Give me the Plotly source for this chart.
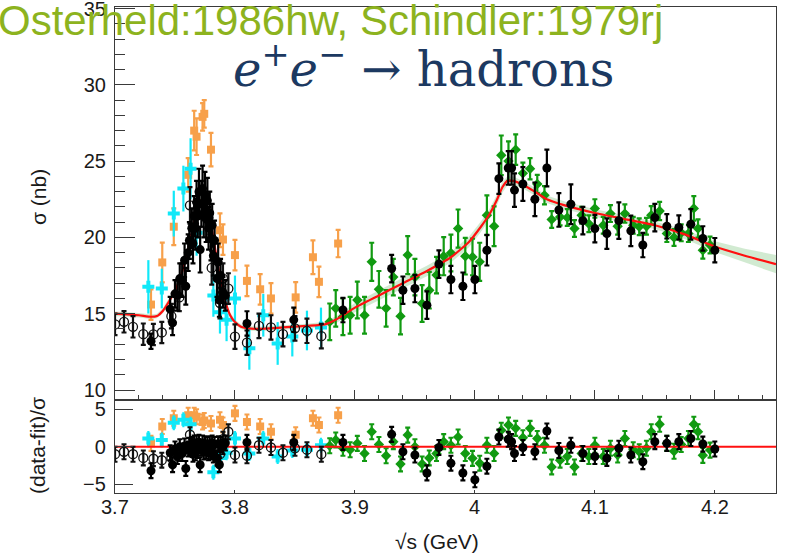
import plotly.graph_objects as go

# ---------------- data ----------------
# fit curve
fit_x = [3.700, 3.710, 3.720, 3.730, 3.735, 3.740, 3.745, 3.750, 3.755, 3.760, 3.764, 3.768,
         3.771, 3.774, 3.777, 3.780, 3.784, 3.788, 3.792, 3.796, 3.800, 3.805, 3.810, 3.820,
         3.840, 3.860, 3.875, 3.885, 3.900, 3.920, 3.940, 3.960, 3.980, 3.995, 4.005, 4.012,
         4.018, 4.023, 4.027, 4.032, 4.040, 4.050, 4.060, 4.075, 4.100, 4.125, 4.150, 4.175,
         4.200, 4.225, 4.251]
fit_y = [15.0, 14.95, 14.9, 14.8, 14.85, 15.2, 15.8, 16.5, 17.5, 18.9, 20.3, 21.7,
         22.4, 22.5, 22.0, 20.9, 19.0, 17.2, 15.8, 14.9, 14.45, 14.15, 14.05, 14.0,
         14.1, 14.2, 14.3, 14.65, 15.4, 16.2, 17.0, 17.8, 18.7, 19.7, 20.7, 21.5,
         22.4, 23.3, 23.7, 23.7, 23.45, 23.0, 22.5, 22.1, 21.6, 21.2, 20.8, 20.2,
         19.4, 18.8, 18.25]
fit_band = [0.15, 0.15, 0.15, 0.15, 0.15, 0.15, 0.18, 0.2, 0.2, 0.2, 0.2, 0.2,
            0.2, 0.2, 0.2, 0.2, 0.2, 0.2, 0.2, 0.18, 0.15, 0.15, 0.15, 0.15,
            0.15, 0.15, 0.18, 0.22, 0.3, 0.35, 0.35, 0.35, 0.35, 0.35, 0.35, 0.35,
            0.35, 0.35, 0.3, 0.3, 0.25, 0.25, 0.25, 0.25, 0.25, 0.25, 0.25, 0.3,
            0.35, 0.45, 0.6]

# black filled circles
black_x = [3.730, 3.746, 3.748, 3.750, 3.752, 3.754, 3.756, 3.758, 3.759, 3.761, 3.762, 3.764,
           3.765, 3.766, 3.767, 3.768, 3.769, 3.770, 3.771, 3.772, 3.773, 3.774, 3.775, 3.776,
           3.777, 3.778, 3.779, 3.780, 3.781, 3.782, 3.783, 3.785, 3.786, 3.787, 3.788, 3.790,
           3.792, 3.810, 3.849, 3.890, 3.9306, 3.940, 3.950, 3.960, 3.970, 3.980, 3.990, 4.000,
           4.010, 4.020, 4.0278, 4.0306, 4.033, 4.040, 4.050, 4.060, 4.070, 4.080, 4.090, 4.100,
           4.110, 4.120, 4.130, 4.140, 4.150, 4.160, 4.170, 4.180, 4.190, 4.200]
black_y = [13.2, 15.3, 14.4, 16.3, 16.2, 17.3, 17.2, 18.5, 16.8, 19.0, 19.8, 20.6,
           19.6, 21.4, 20.6, 22.3, 21.4, 23.0, 19.2, 22.2, 23.2, 21.5, 22.8, 21.2,
           22.4, 20.6, 21.6, 19.9, 20.8, 18.8, 19.8, 17.3, 18.4, 15.9, 17.5, 16.4,
           16.2, 14.36, 14.6, 15.24, 17.96, 16.54, 16.65, 15.56, 18.25, 17.24, 16.8, 17.24,
           19.16, 23.85, 24.55, 24.55, 23.1, 23.5, 22.5, 24.55, 21.8, 22.17, 21.1, 20.58,
           20.25, 21.1, 20.43, 19.5, 21.3, 20.73, 20.65, 20.86, 19.93, 19.16]
black_err = [0.5, 0.8, 0.8, 0.9, 1.0, 1.0, 1.1, 1.1, 1.2, 1.2, 1.2, 1.3,
             1.3, 1.3, 1.4, 1.4, 1.4, 1.5, 1.5, 1.5, 1.5, 1.5, 1.5, 1.5,
             1.5, 1.4, 1.4, 1.4, 1.4, 1.3, 1.3, 1.2, 1.2, 1.1, 1.1, 1.0,
             1.0, 0.8, 0.8, 0.8, 0.9, 0.9, 0.9, 0.9, 0.9, 0.9, 0.9, 0.9,
             1.0, 1.0, 1.1, 1.1, 1.1, 1.1, 1.1, 1.2, 1.1, 1.3, 0.9, 0.9,
             1.0, 1.2, 1.0, 0.8, 0.9, 0.8, 0.8, 1.0, 0.8, 0.8]
black_res = [-3.2, -0.8, -2.4, -0.3, -1.3, 0.0, -0.9, 0.1, -2.9, -0.3, 0.2, 0.3,
             -1.0, 0.5, -0.8, 0.5, -0.5, 0.6, -2.4, -0.2, 0.5, -0.7, 0.4, -0.6,
             0.3, -0.8, 0.4, -0.7, 0.5, -1.1, 0.3, -1.5, 0.4, -2.4, 0.3, 0.0,
             0.5, 0.58, 0.58, 0.58, 1.65, -0.67, -1.1, -3.5, -0.1, -2.2, -3.5, -4.4,
             -2.6, 1.3, 1.0, 0.67, -0.9, -0.1, -0.67, 2.1, -0.5, 0.2, -0.9, -1.3,
             -1.55, -0.2, -1.1, -2.0, 0.67, 0.45, 0.67, 1.1, 0.36, -0.3]

# open circles
open_x = [3.700, 3.7075, 3.715, 3.7236, 3.732, 3.739, 3.747, 3.7536, 3.7625, 3.7806, 3.7875,
          3.790, 3.7945, 3.800, 3.810, 3.820, 3.830, 3.840, 3.850, 3.860, 3.872]
open_y = [14.3, 14.47, 14.14, 13.66, 13.64, 13.77, 14.84, 16.07, 22.1, 18.0, 15.7,
          17.3, 16.65, 13.5, 13.1, 14.2, 14.1, 13.66, 14.04, 13.88, 13.53]
open_err = [0.7, 0.7, 0.7, 0.7, 0.7, 0.7, 0.8, 0.9, 1.2, 1.1, 1.0,
            1.0, 1.0, 0.8, 0.8, 0.8, 0.8, 0.8, 0.8, 0.8, 0.8]
open_res = [-1.0, -0.67, -1.0, -1.5, -1.6, -1.8, -1.5, -0.9, 1.6, -0.5, -1.0,
            1.0, 2.0, -1.1, -1.2, 0.2, -0.1, -0.8, -0.2, -0.4, -1.0]

# orange squares
orange_x = [3.730, 3.7394, 3.749, 3.761, 3.766, 3.768, 3.773, 3.7744, 3.780, 3.7875, 3.790,
            3.800, 3.810, 3.821, 3.830, 3.8506, 3.865, 3.870, 3.886]
orange_y = [15.6, 18.36, 20.7, 24.1, 27.0, 26.6, 27.9, 28.1, 25.75, 20.47, 19.86,
            18.84, 17.15, 16.6, 16.0, 16.07, 18.7, 17.09, 19.6]
orange_err = [1.0, 1.3, 1.2, 1.1, 1.3, 1.2, 0.9, 0.9, 1.1, 1.1, 1.0,
              1.0, 1.0, 1.0, 1.0, 1.0, 1.1, 1.0, 0.9]
orange_res = [0.45, 2.7, 3.8, 4.2, 4.2, 4.0, 3.3, 3.5, 3.1, 3.6, 2.9,
              4.45, 3.3, 2.7, 2.0, 1.6, 3.8, 2.9, 4.2]

# cyan crosses
cyan_x = [3.7278, 3.739, 3.749, 3.757, 3.763, 3.768, 3.782, 3.7875, 3.793, 3.800, 3.812,
          3.8236, 3.8356, 3.8478, 3.860, 3.8717]
cyan_y = [16.76, 16.65, 21.56, 23.2, 24.5, 20.3, 16.2, 15.1, 14.6, 16.0, 12.73,
          14.9, 13.05, 13.5, 13.9, 14.1]
cyan_err = [1.75, 1.3, 1.5, 1.5, 2.0, 1.5, 1.4, 1.4, 1.4, 1.5, 1.4,
            1.4, 1.4, 1.3, 1.3, 1.3]
cyan_res = [1.1, 0.9, 3.2, 3.6, 3.0, -0.5, -3.4, -1.5, -0.8, 1.1, -0.9,
            1.1, -1.3, -0.5, -0.4, 0.2]

# green diamonds
green_x = [3.879, 3.884, 3.890, 3.896, 3.902, 3.908, 3.914, 3.920, 3.926, 3.932, 3.938,
           3.944, 3.950, 3.956, 3.962, 3.968, 3.974, 3.980, 3.986, 3.992, 3.998, 4.004,
           4.010, 4.016, 4.022, 4.028, 4.034, 4.040, 4.046, 4.052, 4.058, 4.064, 4.071,
           4.077, 4.083, 4.089, 4.095, 4.100, 4.107, 4.113, 4.119, 4.125, 4.132, 4.137,
           4.143, 4.147, 4.154, 4.160, 4.166, 4.172, 4.178, 4.1825, 4.186, 4.190, 4.196]
green_y = [14.47, 15.35, 14.8, 14.9, 15.9, 14.9, 18.4, 16.6, 15.35, 17.4, 14.84,
           18.84, 17.4, 15.67, 16.54, 17.53, 18.77, 18.98, 20.58, 18.77, 18.72, 18.4,
           21.45, 20.73, 25.38, 25.0, 25.75, 24.2, 24.5, 23.5, 22.76, 21.17, 21.34,
           21.3, 20.58, 21.45, 20.9, 21.9, 20.8, 21.56, 20.73, 21.56, 20.8, 20.7,
           20.73, 21.45, 21.73, 20.25, 19.99, 20.3, 20.25, 21.9, 20.58, 19.16, 19.5]
green_err = [1.2, 1.2, 1.2, 1.2, 1.2, 1.2, 1.25, 1.2, 1.2, 1.2, 1.2,
             1.25, 1.2, 1.2, 1.2, 1.2, 1.25, 1.2, 1.25, 1.2, 1.2, 1.25,
             1.3, 1.3, 1.3, 1.3, 1.0, 0.7, 0.7, 0.6, 0.6, 0.55, 0.55,
             0.55, 0.55, 0.55, 0.55, 0.6, 0.55, 0.55, 0.55, 0.6, 0.55, 0.55,
             0.55, 0.6, 0.6, 0.55, 0.55, 0.55, 0.55, 0.8, 0.6, 0.55, 0.55]
green_res = [0.13, 0.9, -0.2, -0.4, 0.45, -0.9, 2.0, 0.3, -1.2, 0.67, -2.3,
             1.56, 0.0, -2.3, -1.5, -0.9, 0.67, 0.2, 1.3, -0.9, -1.55, -2.2,
             0.2, -0.9, 2.2, 2.9, 2.45, 1.2, 2.45, 1.1, 0.2, -2.7, -1.8,
             -1.3, -2.7, -0.9, -1.3, 0.2, -1.3, -0.2, -1.1, 1.1, -0.4, -0.67,
             -0.2, 2.0, 3.0, 0.45, -0.6, 0.3, 1.1, 3.0, 2.0, -1.15, -0.45]

x_ticks = [3.7, 3.8, 3.9, 4.0, 4.1, 4.2]
x_tick_text = ["3.7", "3.8", "3.9", "4", "4.1", "4.2"]
y_ticks = [10, 15, 20, 25, 30, 35]
res_ticks = [-5, 0, 5]

# ---------------- layout geometry ----------------
W, H = 789, 555
ML, MR, MT, MB = 115, 13, 7, 62
PW, PH = W - ML - MR, H - MT - MB
split = (H - MB - 400) / PH   # residual panel top at 400 px


def px(xp):
    return (xp - ML) / PW


def py(yp):
    return (H - MB - yp) / PH


FONT = "Liberation Sans"
AX = "#3a3a3a"
TXT = "#1a1a1a"

fig = go.Figure()

# band + fit line (main)
band_up = [v + e for v, e in zip(fit_y, fit_band)]
band_dn = [v - e for v, e in zip(fit_y, fit_band)]
fig.add_trace(go.Scatter(x=fit_x + fit_x[::-1], y=band_up + band_dn[::-1], fill="toself",
                         fillcolor="rgba(70,170,70,0.25)", line=dict(width=0),
                         mode="lines", hoverinfo="skip", xaxis="x", yaxis="y"))


def add_series(x, y, err, res, symbol, color, size, fill=None, line_w=0, cap=2.5, errx=None):
    fc = fill if fill is not None else color
    for (yy, ee, xa, ya) in [(y, err, "x", "y"), (res, [1.0] * len(res), "x2", "y2")]:
        kw = {}
        if errx is not None:
            kw["error_x"] = dict(type="constant", value=errx, color=color, thickness=2.2, width=0)
        fig.add_trace(go.Scatter(
            x=x, y=yy, mode="markers", xaxis=xa, yaxis=ya,
            marker=dict(symbol=symbol, color=fc, size=size,
                        line=dict(color=color, width=line_w)),
            error_y=dict(type="data", array=ee, color=color, thickness=2.2, width=cap),
            **kw))


add_series(orange_x, orange_y, orange_err, orange_res, "square", "#f7a04a", 8)
add_series(cyan_x, cyan_y, cyan_err, cyan_res, "cross", "#10e8f8", 10, cap=0, errx=0.003)
add_series(green_x, green_y, green_err, green_res, "diamond", "#119a11", 8)

fig.add_trace(go.Scatter(x=fit_x, y=fit_y, mode="lines", line=dict(color="#ff1010", width=2.2,
                                                                    shape="spline", smoothing=0.5),
                         xaxis="x", yaxis="y"))
fig.add_trace(go.Scatter(x=[3.7, 4.251], y=[0, 0], mode="lines",
                         line=dict(color="#ff1010", width=2.2), xaxis="x2", yaxis="y2"))

add_series(open_x, open_y, open_err, open_res, "circle-open", "#111111", 9, line_w=1.3)
add_series(black_x, black_y, black_err, black_res, "circle", "#000000", 9)

axis_common = dict(showline=True, linecolor=AX, linewidth=1.2, mirror=True, ticks="inside",
                   tickcolor=AX, showgrid=False, zeroline=False, automargin=False,
                   tickfont=dict(family=FONT, size=20, color=TXT))

fig.update_layout(
    width=W, height=H, margin=dict(l=ML, r=MR, t=MT, b=MB),
    paper_bgcolor="white", plot_bgcolor="white", showlegend=False,
    xaxis=dict(axis_common, domain=[0, 1], anchor="y", range=[3.7, 4.251], tickvals=x_ticks,
               showticklabels=False, ticklen=10, tickwidth=1.2,
               minor=dict(dtick=0.02, tick0=3.7, ticks="inside", ticklen=5, tickcolor=AX)),
    yaxis=dict(axis_common, domain=[split, 1], anchor="x", range=[9.345, 35.1], tickvals=y_ticks,
               ticklen=20, tickwidth=1.2, ticklabelstandoff=4, ticklabeloverflow="allow",
               minor=dict(dtick=1, tick0=10, ticks="inside", ticklen=10, tickcolor=AX)),
    xaxis2=dict(axis_common, domain=[0, 1], anchor="y2", range=[3.7, 4.251], tickvals=x_ticks,
                showticklabels=False, ticklen=3, matches="x"),
    yaxis2=dict(axis_common, domain=[0, split], anchor="x2", range=[-6.17, 6.23],
                tickvals=res_ticks, ticklen=18, tickwidth=1.2, ticklabelstandoff=4),
)

annots = []
# x tick labels of the residual panel (placed in data coordinates)
for tv, tt in zip(x_ticks, x_tick_text):
    annots.append(dict(text=tt, x=tv, xref="x2", y=py(507), yref="paper", xanchor="center",
                       yanchor="middle", showarrow=False,
                       font=dict(family=FONT, size=20, color=TXT)))

for a in [
    dict(text="Osterheld:1986hw, Schindler:1979rj", x=px(-4), y=py(21), xanchor="left",
         yanchor="middle", font=dict(family=FONT, size=42, color="#8db31e")),
    dict(text="<i>e</i><sup>+</sup><i>e</i><sup>−</sup> → hadrons", x=px(231), y=py(66),
         xanchor="left", yanchor="middle",
         font=dict(family="DejaVu Serif", size=48, color="#1c3961")),
    dict(text="σ (nb)", x=px(38), y=py(197), textangle=-90, xanchor="center", yanchor="middle",
         font=dict(family=FONT, size=21, color=TXT)),
    dict(text="(data-fit)/σ", x=px(38), y=py(446), textangle=-90, xanchor="center",
         yanchor="middle", font=dict(family=FONT, size=21, color=TXT)),
    dict(text="√s (GeV)", x=px(437), y=py(541), xanchor="center", yanchor="middle",
         font=dict(family=FONT, size=21, color=TXT)),
]:
    a.update(xref="paper", yref="paper", showarrow=False)
    annots.append(a)
fig.update_layout(annotations=annots)

fig.write_html("out.html", config={"displayModeBar": False},
               post_script="document.body.style.margin='0';")
